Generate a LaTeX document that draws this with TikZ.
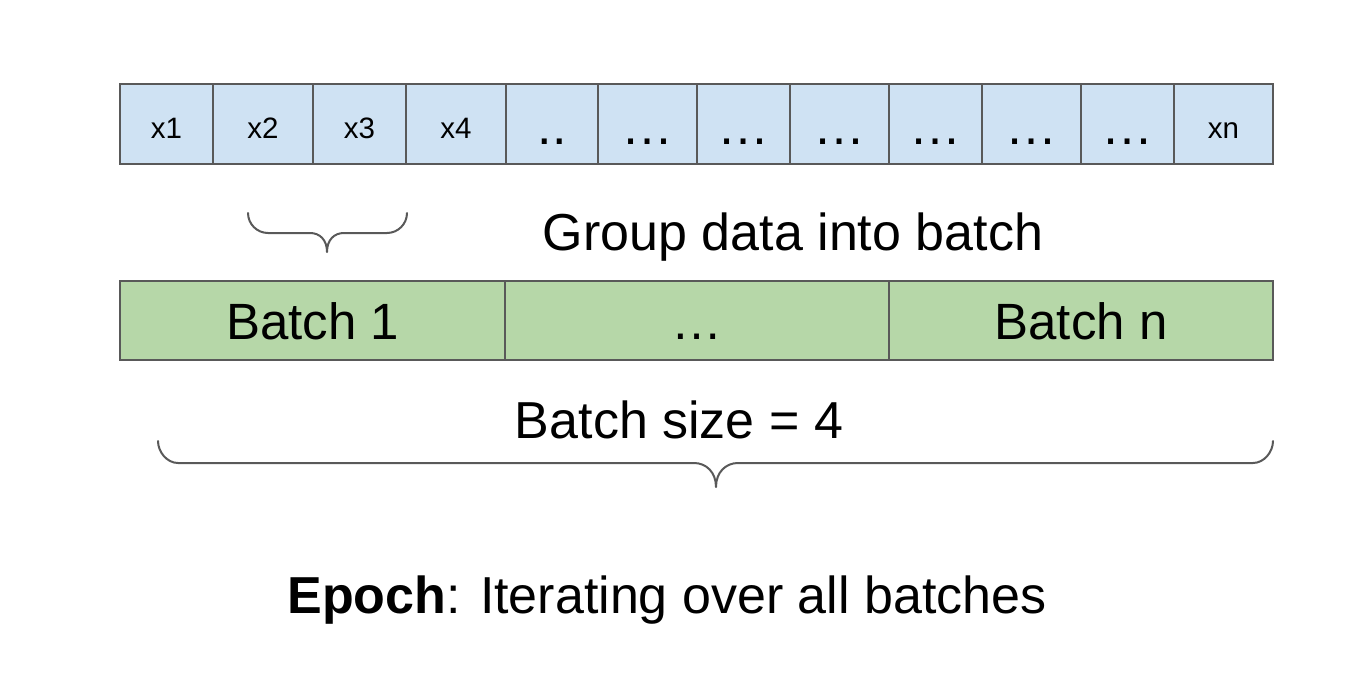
\documentclass[tikz,border=0pt]{standalone}
\usepackage{fontspec}
\setmainfont{Liberation Sans}
\definecolor{cellblue}{HTML}{CFE2F3}
\definecolor{cellgreen}{HTML}{B6D7A8}
\definecolor{edgegray}{HTML}{595959}
\begin{document}
\begin{tikzpicture}[x=1pt,y=-1pt,
  cell/.style={draw=edgegray, line width=2pt, fill=cellblue, minimum height=80pt,
    inner sep=0pt, text height=28pt, text depth=0pt, font=\fontsize{29.5}{30}\selectfont},
  dotcell/.style={cell, text height=40pt, font=\fontsize{52}{52}\selectfont},
  batchbox/.style={draw=edgegray, line width=2pt, fill=cellgreen, minimum height=79pt,
    inner sep=0pt, text height=37pt, text depth=0pt, font=\fontsize{51}{52}\selectfont},
  brace/.style={draw=edgegray, line width=2pt, line cap=round, line join=round},
  big/.style={font=\fontsize{52}{53}\selectfont, inner sep=0pt, anchor=base}]
\useasboundingbox (0,0) rectangle (1366,696);
% data row
\node[cell, minimum width=93pt]     (c1)  at (166.5,124)  {x1};
\node[cell, minimum width=100pt]    (c2)  at (263,124)    {x2};
\node[cell, minimum width=93pt]     (c3)  at (359.5,124)  {x3};
\node[cell, minimum width=100pt]    (c4)  at (456,124)    {x4};
\node[dotcell, minimum width=92pt]  (c5)  at (552,124)    {..};
\node[dotcell, minimum width=99pt]  (c6)  at (647.5,124)  {…};
\node[dotcell, minimum width=93pt]  (c7)  at (743.5,124)  {…};
\node[dotcell, minimum width=99pt]  (c8)  at (839.5,124)  {…};
\node[dotcell, minimum width=93pt]  (c9)  at (935.5,124)  {…};
\node[dotcell, minimum width=99pt]  (c10) at (1031.5,124) {…};
\node[dotcell, minimum width=93pt]  (c11) at (1127.5,124) {…};
\node[cell, minimum width=99pt]     (c12) at (1223.5,124) {xn};
% small brace
\draw[brace] (248,213) .. controls (248,224) and (257,233) .. (268,233) -- (310,233)
  .. controls (320,233) and (327,240) .. (327,252)
  .. controls (327,240) and (334,233) .. (344,233) -- (387,233)
  .. controls (398,233) and (407,224) .. (407,213);
\node[big] (group) at (793,250) {Group data into batch};
% batch row
\node[batchbox, minimum width=385pt] (b1) at (312.5,320.5) {Batch 1};
\node[batchbox, minimum width=384pt] (b2) at (697,320.5)   {…};
\node[batchbox, minimum width=384pt] (b3) at (1081,320.5)  {Batch n};
\node[big] (bsize) at (679,438) {Batch size = 4};
% big brace
\draw[brace] (158,441) .. controls (158,452) and (167,463) .. (178,463) -- (694,463)
  .. controls (706,463) and (716,472) .. (716,487)
  .. controls (716,472) and (726,463) .. (738,463) -- (1253,463)
  .. controls (1264,463) and (1273,452) .. (1273,441);
\node[big] (epoch) at (667,613) {\textbf{Epoch}: Iterating over all batches};
\end{tikzpicture}
\end{document}
